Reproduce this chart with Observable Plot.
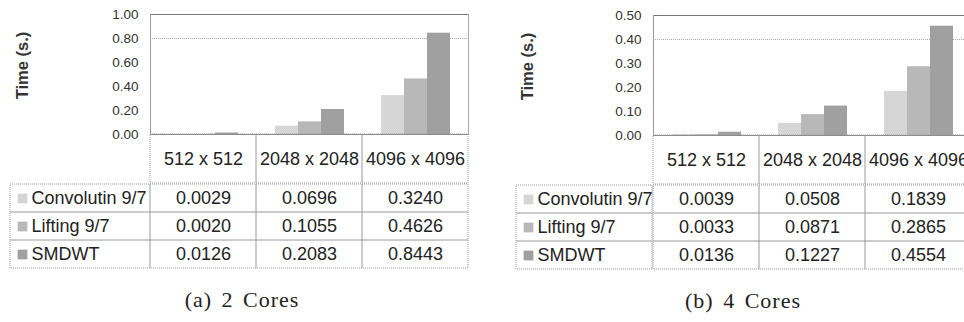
<!DOCTYPE html>
<html><head><meta charset="utf-8">
<script src="https://cdn.jsdelivr.net/npm/d3@7"></script>
<script src="https://cdn.jsdelivr.net/npm/@observablehq/plot@0.6"></script>
<style>
html,body{margin:0;padding:0;background:#fff;}
body{width:964px;height:322px;overflow:hidden;position:relative;font-family:"Liberation Sans",Arial,sans-serif;}
.panel{position:absolute;top:0;overflow:hidden;height:322px;}
.panel svg{display:block;max-width:none !important;flex:none;}
.row{display:flex;}
.caption{font-family:"Liberation Serif","Times New Roman",serif;font-size:22px;letter-spacing:1px;word-spacing:3px;text-align:center;color:#222;line-height:24px;margin-top:19px;}
</style>
</head><body>
<div id="pa" class="panel" style="left:0;width:484px;"></div>
<div id="pb" class="panel" style="left:484px;width:480px;padding-top:1px;"></div>
<script>
const categories = ["512 x 512", "2048 x 2048", "4096 x 4096"];
const seriesNames = ["Convolutin 9/7", "Lifting 9/7", "SMDWT"];
const colors = ["#d6d6d6", "#b8b8b8", "#a0a0a0"];

// (a) 2 Cores
const conv2 = [0.0029, 0.0696, 0.3240];
const lift2 = [0.0020, 0.1055, 0.4626];
const smdwt2 = [0.0126, 0.2083, 0.8443];
const yTicks2 = [0, 0.2, 0.4, 0.6, 0.8, 1.0];
const grid2 = [0.8];

// (b) 4 Cores
const conv4 = [0.0039, 0.0508, 0.1839];
const lift4 = [0.0033, 0.0871, 0.2865];
const smdwt4 = [0.0136, 0.1227, 0.4554];
const yTicks4 = [0, 0.1, 0.2, 0.3, 0.4, 0.5];
const grid4 = [0.4];

const font = '"Liberation Sans", Arial, sans-serif';
const dotted = {stroke: "#9a9a9a", strokeDasharray: "1,1"};

function buildPanel(el, {vals, yTicks, grid, caption, W, ML, MR, LX, labelX, capW}) {
  const ymax = yTicks[yTicks.length - 1];
  const rows = categories.flatMap((c, i) => seriesNames.map((s, j) => ({size: c, series: s, value: vals[j][i]})));
  const baseStyle = {fontFamily: font, background: "transparent", color: "#222", overflow: "visible", maxWidth: "none"};

  const chart = Plot.plot({
    width: W, height: 134, marginLeft: ML, marginRight: MR, marginTop: 14, marginBottom: 0,
    style: {...baseStyle, fontSize: "13px"},
    fx: {domain: categories, padding: 0, axis: null, label: null},
    x: {domain: seriesNames, paddingInner: 0, paddingOuter: 0.775, axis: null},
    y: {domain: [0, ymax], axis: null},
    color: {domain: seriesNames, range: colors},
    marks: [
      Plot.ruleY(grid, {stroke: "#aaa", strokeDasharray: "1,1"}),
      Plot.barY(rows, {fx: "size", x: "series", y: "value", fill: "series"}),
      Plot.frame({anchor: "top", stroke: "#777", strokeDasharray: "1,1"}),
      Plot.frame({anchor: "right", facetAnchor: "right", stroke: "#aaa", strokeDasharray: "1,1"}),
      Plot.frame({anchor: "left", facetAnchor: "left", stroke: "#999"}),
      Plot.frame({anchor: "bottom", stroke: "#888"}),
      Plot.axisY({ticks: yTicks, tickFormat: d3.format(".2f"), tickSize: 0, tickPadding: 12, label: null, fontSize: 13.5, fill: "#333"}),
      Plot.text(["Time (s.)"], {frameAnchor: "left", dx: -(ML - labelX), dy: -9, rotate: -90, textAnchor: "middle", text: d => d, fontWeight: "bold", fontSize: 16.5, fill: "#333", facetAnchor: "left"})
    ]
  });

  const header = Plot.plot({
    width: W, height: 49, marginLeft: ML, marginRight: MR, marginTop: 0, marginBottom: 0,
    style: baseStyle,
    x: {domain: categories, padding: 0, axis: null},
    marks: [
      Plot.cell(categories, {x: d => d, fill: "none", ...dotted}),
      Plot.text(categories, {x: d => d, text: d => d, fontSize: 18, fill: "#222"})
    ]
  });

  const legend = Plot.plot({
    width: ML, height: 86, marginLeft: LX, marginRight: 0, marginTop: 1, marginBottom: 1,
    style: baseStyle,
    y: {domain: seriesNames, padding: 0, axis: null},
    color: {domain: seriesNames, range: colors},
    marks: [
      Plot.cell(seriesNames, {y: d => d, fill: "none", ...dotted}),
      Plot.dot(seriesNames, {y: d => d, frameAnchor: "left", dx: 12, symbol: "square", r: 5.5, fill: d => d}),
      Plot.text(seriesNames, {y: d => d, text: d => d, frameAnchor: "left", dx: 21, textAnchor: "start", fontSize: 18, fill: "#222"})
    ]
  });

  const table = Plot.plot({
    width: W - ML, height: 86, marginLeft: 0, marginRight: MR, marginTop: 1, marginBottom: 1,
    style: baseStyle,
    x: {domain: categories, padding: 0, axis: null},
    y: {domain: seriesNames, padding: 0, axis: null},
    marks: [
      Plot.cell(rows, {x: "size", y: "series", fill: "none", ...dotted}),
      Plot.text(rows, {x: "size", y: "series", text: d => d.value.toFixed(4), fontSize: 18, fill: "#222"})
    ]
  });

  el.appendChild(chart);
  el.appendChild(header);
  const row = document.createElement("div");
  row.className = "row";
  row.style.width = W + "px";
  row.appendChild(legend);
  row.appendChild(table);
  el.appendChild(row);
  const cap = document.createElement("div");
  cap.className = "caption";
  cap.style.width = capW + "px";
  cap.textContent = caption;
  el.appendChild(cap);
}

buildPanel(document.getElementById("pa"), {
  vals: [conv2, lift2, smdwt2], yTicks: yTicks2, grid: grid2, caption: "(a) 2 Cores",
  W: 482, ML: 150, MR: 14, LX: 10, labelX: 22, capW: 484
});
buildPanel(document.getElementById("pb"), {
  vals: [conv4, lift4, smdwt4], yTicks: yTicks4, grid: grid4, caption: "(b) 4 Cores",
  W: 490, ML: 168, MR: 3, LX: 32, labelX: 42, capW: 518
});
</script>
</body></html>
